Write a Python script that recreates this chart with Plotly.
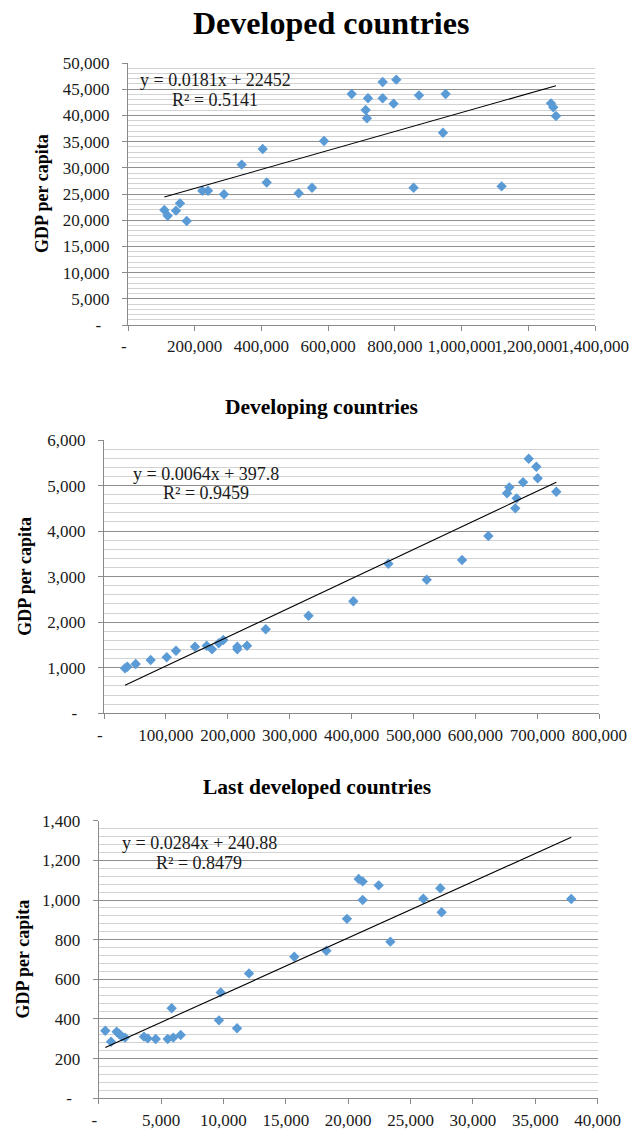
import plotly.graph_objects as go

W, H = 629, 1129

# ---------------- data ----------------
dev_x = [108900, 119000, 143900, 155900, 176000, 222800, 239800, 287800, 340800, 403800,
         415800, 511700, 551700, 587600, 670600, 712500, 716400, 719500, 763400, 763400,
         796300, 804300, 856200, 872300, 944200, 952200, 1120000, 1268000, 1275000, 1283000]
dev_y = [21950, 20860, 21820, 23220, 19850, 25630, 25630, 24940, 30600, 33590,
         27200, 25130, 26200, 35110, 44080, 41030, 39440, 43260, 46370, 43260,
         42240, 46820, 26200, 43830, 36700, 44080, 26460, 42300, 41540, 39880]
dev_slope, dev_intercept = 0.0181, 22452
dev_eq = "y = 0.0181x + 22452"
dev_r2 = "R² = 0.5141"

dvg_x = [33900, 37700, 51200, 75400, 101300, 116300, 147000, 165900, 174400, 185300,
         192700, 215300, 215300, 231000, 261200, 330300, 402700, 459300, 521300, 578300,
         620800, 651000, 654700, 664300, 666500, 676800, 686000, 698300, 700500, 730600]
dvg_y = [988, 1023, 1082, 1170, 1229, 1374, 1462, 1484, 1405, 1537,
         1609, 1462, 1405, 1484, 1844, 2140, 2459, 3284, 2933, 3365,
         3892, 4830, 4961, 4500, 4719, 5071, 5589, 5413, 5159, 4865]
dvg_slope, dvg_intercept = 0.0064, 397.8
dvg_eq = "y = 0.0064x + 397.8"
dvg_r2 = "R² = 0.9459"

ldc_x = [530, 990, 1440, 1650, 1870, 2110, 3630, 3930, 4570, 5530,
         5850, 5980, 6570, 9640, 9780, 11090, 12050, 15680, 18250, 19900,
         20840, 21160, 21160, 22440, 23380, 26020, 27380, 27490, 37880]
ldc_y = [341, 285, 336, 324, 311, 306, 311, 302, 299, 299,
         454, 306, 319, 393, 534, 353, 630, 714, 744, 905,
         1106, 1094, 1000, 1074, 790, 1006, 1059, 938, 1005]
ldc_slope, ldc_intercept = 0.0284, 240.88
ldc_eq = "y = 0.0284x + 240.88"
ldc_r2 = "R² = 0.8479"

titles = ["Developed countries", "Developing countries", "Last developed countries"]
y_title = "GDP per capita"

dev_xticks = [0, 200000, 400000, 600000, 800000, 1000000, 1200000, 1400000]
dev_xlabels = ["-", "200,000", "400,000", "600,000", "800,000", "1,000,000", "1,200,000", "1,400,000"]
dev_yticks = [0, 5000, 10000, 15000, 20000, 25000, 30000, 35000, 40000, 45000, 50000]
dev_ylabels = ["-", "5,000", "10,000", "15,000", "20,000", "25,000", "30,000", "35,000", "40,000", "45,000", "50,000"]

dvg_xticks = [0, 100000, 200000, 300000, 400000, 500000, 600000, 700000, 800000]
dvg_xlabels = ["-", "100,000", "200,000", "300,000", "400,000", "500,000", "600,000", "700,000", "800,000"]
dvg_yticks = [0, 1000, 2000, 3000, 4000, 5000, 6000]
dvg_ylabels = ["-", "1,000", "2,000", "3,000", "4,000", "5,000", "6,000"]

ldc_xticks = [0, 5000, 10000, 15000, 20000, 25000, 30000, 35000, 40000]
ldc_xlabels = ["-", "5,000", "10,000", "15,000", "20,000", "25,000", "30,000", "35,000", "40,000"]
ldc_yticks = [0, 200, 400, 600, 800, 1000, 1200, 1400]
ldc_ylabels = ["-", "200", "400", "600", "800", "1,000", "1,200", "1,400"]

# ---------------- style ----------------
FONT = "Liberation Serif"
MARKER = "#5B9BD5"
MAJOR = "#8f8f8f"
MINOR = "#d2d2d2"
AXIS = "#8a8a8a"

def px(x):
    return x / W

def py(y):
    return 1 - y / H

panels = [
    dict(x=dev_x, y=dev_y, slope=dev_slope, icpt=dev_intercept, eq=dev_eq, r2=dev_r2,
         xt=dev_xticks, xl=dev_xlabels, yt=dev_yticks, yl=dev_ylabels, minor=1000,
         dom_x=(128, 595), dom_y=(63, 325), title_pos=(331, 23), title_size=32,
         ytitle_x=42, eq_pos=(215, 80), r2_pos=(215, 100)),
    dict(x=dvg_x, y=dvg_y, slope=dvg_slope, icpt=dvg_intercept, eq=dvg_eq, r2=dvg_r2,
         xt=dvg_xticks, xl=dvg_xlabels, yt=dvg_yticks, yl=dvg_ylabels, minor=200,
         dom_x=(104, 599.3), dom_y=(440, 713.3), title_pos=(321.5, 407), title_size=21.5,
         ytitle_x=25, eq_pos=(206, 474), r2_pos=(206, 493)),
    dict(x=ldc_x, y=ldc_y, slope=ldc_slope, icpt=ldc_intercept, eq=ldc_eq, r2=ldc_r2,
         xt=ldc_xticks, xl=ldc_xlabels, yt=ldc_yticks, yl=ldc_ylabels, minor=40,
         dom_x=(98.7, 597.7), dom_y=(820.7, 1098.3), title_pos=(317, 787), title_size=21.5,
         ytitle_x=22, eq_pos=(199, 843), r2_pos=(199, 863)),
]

fig = go.Figure()
annotations = []
layout = {}

for i, p in enumerate(panels, start=1):
    sfx = "" if i == 1 else str(i)
    xa, ya = "x" + sfx, "y" + sfx
    fig.add_trace(go.Scatter(
        x=p["x"], y=p["y"], mode="markers", xaxis=xa, yaxis=ya,
        marker=dict(symbol="diamond", size=8, color=MARKER, line=dict(width=0)),
        showlegend=False, hoverinfo="x+y"))
    x0, x1 = min(p["x"]), max(p["x"])
    fig.add_trace(go.Scatter(
        x=[x0, x1], y=[p["slope"] * x0 + p["icpt"], p["slope"] * x1 + p["icpt"]],
        mode="lines", xaxis=xa, yaxis=ya, line=dict(color="#000000", width=1.1),
        showlegend=False, hoverinfo="skip"))

    ylab = [("-\u00a0\u00a0" if t == "-" else t) for t in p["yl"]]
    xlab = [("-\u00a0\u00a0" if t == "-" else t) for t in p["xl"]]

    layout["xaxis" + sfx] = dict(
        domain=[px(p["dom_x"][0]), px(p["dom_x"][1])],
        anchor=ya, range=[p["xt"][0], p["xt"][-1]],
        tickvals=p["xt"], ticktext=xlab, ticks="outside", ticklen=5, tickangle=0,
        tickcolor=AXIS, tickwidth=1, showline=True, linecolor=AXIS, linewidth=1,
        showgrid=False, zeroline=False, ticklabelstandoff=1, automargin=False,
        tickfont=dict(family=FONT, size=17, color="#1a1a1a"), fixedrange=True)
    layout["yaxis" + sfx] = dict(
        domain=[py(p["dom_y"][1]), py(p["dom_y"][0])],
        anchor=xa, range=[p["yt"][0], p["yt"][-1]],
        tickvals=p["yt"], ticktext=ylab, ticks="outside", ticklen=5,
        tickcolor=AXIS, tickwidth=1, showline=True, linecolor=AXIS, linewidth=1,
        showgrid=True, gridcolor=MAJOR, gridwidth=1, zeroline=False,
        minor=dict(dtick=p["minor"], showgrid=True, gridcolor=MINOR, gridwidth=1, ticks=""),
        ticklabelstandoff=9, automargin=False,
        tickfont=dict(family=FONT, size=17, color="#1a1a1a"), fixedrange=True)

    annotations.append(dict(
        text="<b>%s</b>" % titles[i - 1], xref="paper", yref="paper",
        x=px(p["title_pos"][0]), y=py(p["title_pos"][1]), xanchor="center", yanchor="middle",
        showarrow=False, font=dict(family=FONT, size=p["title_size"], color="#000000")))
    annotations.append(dict(
        text="<b>%s</b>" % y_title, xref="paper", yref="paper", textangle=-90,
        x=px(p["ytitle_x"]), y=py((p["dom_y"][0] + p["dom_y"][1]) / 2),
        xanchor="center", yanchor="middle", showarrow=False,
        font=dict(family=FONT, size=18, color="#000000")))
    for txt, pos in ((p["eq"], p["eq_pos"]), (p["r2"], p["r2_pos"])):
        annotations.append(dict(
            text=txt, xref="paper", yref="paper", x=px(pos[0]), y=py(pos[1]),
            xanchor="center", yanchor="middle", showarrow=False,
            font=dict(family=FONT, size=18, color="#1a1a1a")))

fig.update_layout(
    width=W, height=H, margin=dict(l=0, r=0, t=0, b=0),
    paper_bgcolor="white", plot_bgcolor="white",
    annotations=annotations, **layout)

fig.write_html("out.html", config={"displayModeBar": False},
               post_script="document.body.style.margin='0';document.body.style.overflow='hidden';")
